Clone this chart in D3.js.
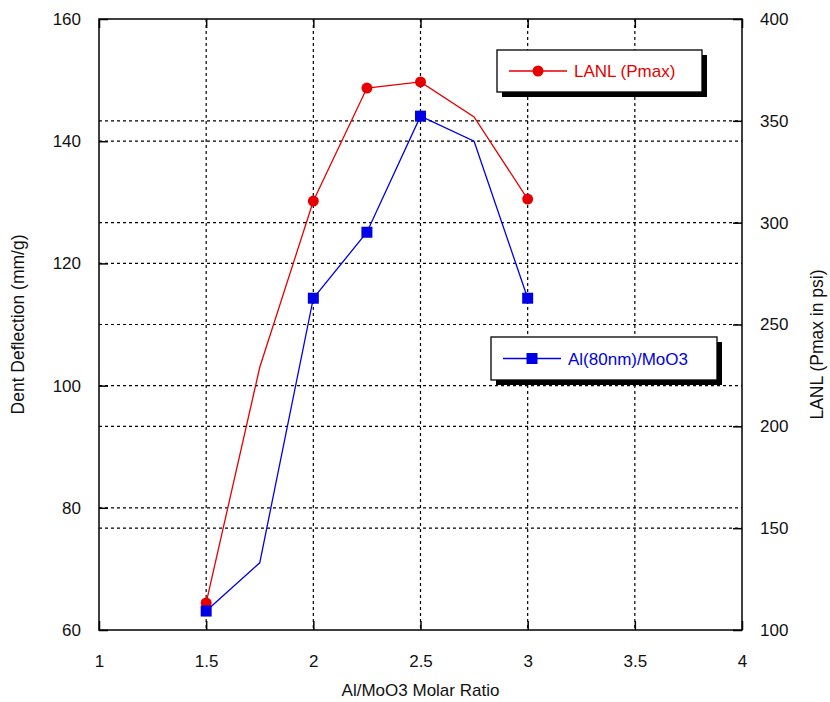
<!DOCTYPE html>
<html><head><meta charset="utf-8">
<script src="https://cdn.jsdelivr.net/npm/d3@7"></script>
<style>body{margin:0;background:#fff;}svg{display:block;font-family:"Liberation Sans",Arial,sans-serif;}</style>
</head><body>
<script>
const ratios = [1.5, 1.75, 2, 2.25, 2.5, 2.75, 3];
const lanlPmax = [113.3, 229, 310.6, 366.1, 369.1, 351.9, 311.6];
const dentDeflection = [63.1, 71.0, 114.3, 125.1, 144.1, 140.0, 114.3];
const markerIdx = [0, 2, 3, 4, 6];
const xTicks = [1, 1.5, 2, 2.5, 3, 3.5, 4];
const yLeftTicks = [60, 80, 100, 120, 140, 160];
const yRightTicks = [100, 150, 200, 250, 300, 350, 400];

const W = 830, H = 702;
const L = 99, R = 742, T = 19, B = 630;
const svg = d3.select("body").append("svg").attr("width", W).attr("height", H);
svg.append("rect").attr("width", W).attr("height", H).attr("fill", "#fff");

const x = d3.scaleLinear().domain([1, 4]).range([L, R]);
const yL = d3.scaleLinear().domain([60, 160]).range([B, T]);
const yR = d3.scaleLinear().domain([100, 400]).range([B, T]);

const grid = svg.append("g").attr("stroke", "#000").attr("stroke-width", 1.2).attr("stroke-dasharray", "3,3");
xTicks.slice(1, -1).forEach(v => {
  grid.append("line").attr("x1", x(v)).attr("x2", x(v)).attr("y1", T).attr("y2", B);
});
yLeftTicks.slice(1, -1).forEach(v => {
  grid.append("line").attr("x1", L).attr("x2", R).attr("y1", yL(v)).attr("y2", yL(v));
});
yRightTicks.slice(1, -1).forEach(v => {
  grid.append("line").attr("x1", L).attr("x2", R).attr("y1", yR(v)).attr("y2", yR(v));
});

// axes with inward ticks
const tl = 9;
const axB = svg.append("g").attr("transform", `translate(0,${B})`)
  .call(d3.axisBottom(x).tickValues(xTicks).tickSizeInner(-tl).tickSizeOuter(0).tickPadding(25).tickFormat(d3.format("")));
const axT = svg.append("g").attr("transform", `translate(0,${T})`)
  .call(d3.axisTop(x).tickValues(xTicks).tickSizeInner(-tl).tickSizeOuter(0).tickFormat(""));
const axL = svg.append("g").attr("transform", `translate(${L},0)`)
  .call(d3.axisLeft(yL).tickValues(yLeftTicks).tickSizeInner(-tl).tickSizeOuter(0).tickPadding(18));
const axR = svg.append("g").attr("transform", `translate(${R},0)`)
  .call(d3.axisRight(yR).tickValues(yRightTicks).tickSizeInner(-tl).tickSizeOuter(0).tickPadding(18));
[axB, axT, axL, axR].forEach(a => {
  a.select(".domain").remove();
  a.selectAll("line").attr("stroke", "#000").attr("stroke-width", 1.5);
  a.selectAll("text").attr("font-size", 17).attr("fill", "#111").attr("font-family", "Liberation Sans, Arial, sans-serif");
});
svg.append("rect").attr("x", L).attr("y", T).attr("width", R - L).attr("height", B - T)
  .attr("fill", "none").attr("stroke", "#000").attr("stroke-width", 1.5);

// series
const red = "#e60000", blue = "#0000e6";
const lineR = d3.line().x((d, i) => x(ratios[i])).y(d => yR(d));
const lineL = d3.line().x((d, i) => x(ratios[i])).y(d => yL(d));
svg.append("path").attr("d", lineR(lanlPmax)).attr("fill", "none").attr("stroke", red).attr("stroke-width", 1.3);
svg.append("path").attr("d", lineL(dentDeflection)).attr("fill", "none").attr("stroke", blue).attr("stroke-width", 1.3);
svg.selectAll(".mr").data(markerIdx).join("circle").attr("cx", i => x(ratios[i])).attr("cy", i => yR(lanlPmax[i]))
  .attr("r", 5.5).attr("fill", red);
svg.selectAll(".mb").data(markerIdx).join("rect").attr("x", i => x(ratios[i]) - 5.5).attr("y", i => yL(dentDeflection[i]) - 5.5)
  .attr("width", 11).attr("height", 11).attr("fill", blue);

// legends
function legend(x0, y0, w, h, color, label, marker) {
  const g = svg.append("g");
  g.append("rect").attr("x", x0 + 5).attr("y", y0 + 5).attr("width", w).attr("height", h).attr("fill", "#000");
  g.append("rect").attr("x", x0).attr("y", y0).attr("width", w).attr("height", h).attr("fill", "#fff").attr("stroke", "#000").attr("stroke-width", 1.3);
  const cy = y0 + h / 2;
  g.append("line").attr("x1", x0 + 12).attr("x2", x0 + 70).attr("y1", cy).attr("y2", cy).attr("stroke", color).attr("stroke-width", 1.5);
  if (marker === "circle") g.append("circle").attr("cx", x0 + 41).attr("cy", cy).attr("r", 5.5).attr("fill", color);
  else g.append("rect").attr("x", x0 + 35.5).attr("y", cy - 5.5).attr("width", 11).attr("height", 11).attr("fill", color);
  g.append("text").attr("x", x0 + 77).attr("y", cy + 6).attr("font-size", 17).attr("fill", color).text(label);
}
legend(497, 50, 205, 42, red, "LANL (Pmax)", "circle");
legend(491, 337, 226, 43, blue, "Al(80nm)/MoO3", "square");

// axis titles
svg.append("text").attr("x", (L + R) / 2).attr("y", 696).attr("text-anchor", "middle").attr("font-size", 17).attr("fill", "#111").text("Al/MoO3 Molar Ratio");
svg.append("text").attr("transform", `translate(24,${(T + B) / 2}) rotate(-90)`).attr("text-anchor", "middle").attr("font-size", 17.5).attr("fill", "#111").text("Dent Deflection (mm/g)");
svg.append("text").attr("transform", `translate(823,${(T + B) / 2 + 20}) rotate(-90)`).attr("text-anchor", "middle").attr("font-size", 17.5).attr("fill", "#111").text("LANL (Pmax in psi)");
</script>
</body></html>
